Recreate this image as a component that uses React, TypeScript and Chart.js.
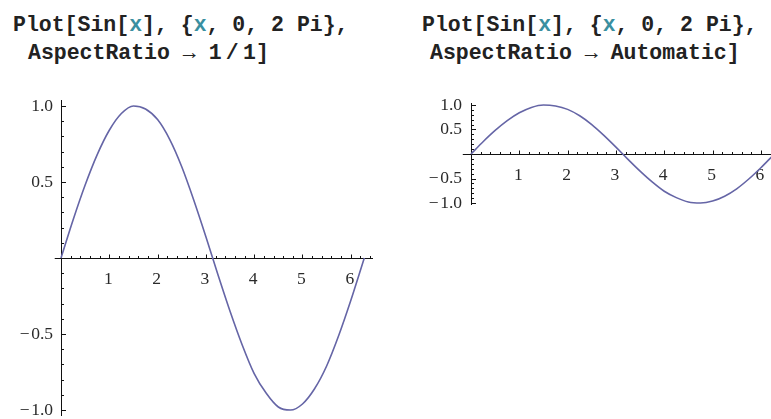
import React, { useEffect, useRef } from 'react';
import { Chart, registerables } from 'chart.js';

Chart.register(...registerables);

// Sampled points of Sin[x] over 0 .. 2 Pi
const xValues = [0, 0.25, 0.5, 0.75, 1, 1.25, 1.5, 1.75, 2, 2.25, 2.5, 2.75, 3, 3.25, 3.5, 3.75, 4, 4.25, 4.5, 4.75, 5, 5.25, 5.5, 5.75, 6, 6.28];
const sinValues = [0, 0.25, 0.48, 0.68, 0.84, 0.95, 1.0, 0.98, 0.91, 0.78, 0.6, 0.38, 0.14, -0.11, -0.35, -0.57, -0.76, -0.89, -0.98, -1.0, -0.96, -0.86, -0.71, -0.51, -0.28, 0];

// Axis tick labels
const xMajorTicks = [1, 2, 3, 4, 5, 6];
const yMajorTicks = [-1, -0.5, 0.5, 1];
const xMinorStep = 0.2;
const yMinorStep = 0.1;

const CURVE_COLOR = '#6565a6';
const AXIS_COLOR = '#111111';
const LABEL_COLOR = '#2a2a2a';
const LABEL_FONT = { family: '"Liberation Serif", "Times New Roman", serif', size: 17.5 };
// fixed width reserved for the y tick labels, left of the y axis
const Y_LABEL_BOX = 52;

const formatY = (v: number) => (v < 0 ? '\u2212\u200A' + Math.abs(v).toFixed(1) : v.toFixed(1));

// Mathematica-style axes crossing at the origin, with ticks pointing inward
const mathAxes = {
  id: 'mathAxes',
  beforeDatasetsDraw(chart: any, _args: any, opts: any) {
    const { ctx } = chart;
    const xs = chart.scales.x;
    const ys = chart.scales.y;
    const ox = Math.round(xs.getPixelForValue(0)) + 0.5;
    const oy = Math.round(ys.getPixelForValue(0)) + 0.5;
    ctx.save();
    ctx.strokeStyle = AXIS_COLOR;
    ctx.lineWidth = 1;
    ctx.beginPath();
    ctx.moveTo(xs.getPixelForValue(opts.xStart ?? 0), oy);
    ctx.lineTo(xs.right, oy);
    ctx.moveTo(ox, ys.top);
    ctx.lineTo(ox, ys.bottom);

    for (let i = 1; i * xMinorStep <= xs.max; i++) {
      const v = i * xMinorStep;
      const major = Math.abs(v - Math.round(v)) < 1e-6;
      const px = Math.round(xs.getPixelForValue(v)) + 0.5;
      ctx.moveTo(px, oy);
      ctx.lineTo(px, oy - (major ? 4 : 2.5));
    }
    for (let i = Math.ceil(ys.min / yMinorStep); i * yMinorStep <= ys.max + 1e-9; i++) {
      if (i === 0) continue;
      const v = i * yMinorStep;
      const major = Math.abs(v * 2 - Math.round(v * 2)) < 1e-6;
      const py = Math.round(ys.getPixelForValue(v)) + 0.5;
      ctx.moveTo(ox, py);
      ctx.lineTo(ox + (major ? 4.5 : 2.5), py);
    }
    ctx.stroke();
    ctx.restore();
  },
};

type PlotProps = {
  left: number;
  width: number;
  height: number;
  padding: { left: number; right: number; top: number; bottom: number };
  xStart: number;
  xMax: number;
  yRange: [number, number];
  yLabelPad: number;
};

function SinPlot({ left, width, height, padding, xStart, xMax, yRange, yLabelPad }: PlotProps) {
  const ref = useRef<HTMLCanvasElement | null>(null);

  useEffect(() => {
    if (!ref.current) return;
    const chart = new Chart(ref.current, {
      type: 'line',
      data: {
        datasets: [
          {
            data: xValues.map((x, i) => ({ x, y: sinValues[i] })),
            borderColor: CURVE_COLOR,
            borderWidth: 1.6,
            pointRadius: 0,
            cubicInterpolationMode: 'monotone',
            fill: false,
            clip: 4,
          },
        ],
      },
      options: {
        animation: false,
        responsive: false,
        maintainAspectRatio: false,
        layout: { padding },
        plugins: {
          legend: { display: false },
          tooltip: { enabled: false },
          mathAxes: { xStart },
        } as any,
        scales: {
          x: {
            type: 'linear',
            min: 0,
            max: xMax,
            position: { y: 0 } as any,
            grid: { display: false, drawTicks: false },
            border: { display: false },
            ticks: {
              color: LABEL_COLOR,
              font: LABEL_FONT,
              padding: 11,
              labelOffset: -1,
              autoSkip: false,
              maxRotation: 0,
              callback: (v: any) => String(v),
            },
            afterBuildTicks: (s: any) => {
              s.ticks = xMajorTicks.map((value) => ({ value }));
            },
          },
          y: {
            type: 'linear',
            min: yRange[0],
            max: yRange[1],
            position: 'left',
            grid: { display: false, drawTicks: false },
            border: { display: false },
            ticks: {
              color: LABEL_COLOR,
              font: LABEL_FONT,
              padding: yLabelPad,
              autoSkip: false,
              callback: (v: any) => formatY(Number(v)),
            },
            afterBuildTicks: (s: any) => {
              s.ticks = yMajorTicks.map((value) => ({ value }));
            },
            afterFit: (s: any) => {
              s.width = Y_LABEL_BOX;
            },
          },
        },
      },
      plugins: [mathAxes],
    });
    return () => chart.destroy();
  }, []);

  return (
    <canvas
      ref={ref}
      width={width}
      height={height}
      style={{ position: 'absolute', left, top: 0, width, height }}
    />
  );
}

const codeStyle: React.CSSProperties = {
  position: 'absolute',
  fontFamily: '"Liberation Mono", "Courier New", monospace',
  fontWeight: 'bold',
  fontSize: 21.5,
  lineHeight: '28px',
  color: '#222',
  whiteSpace: 'pre',
};
const sym: React.CSSProperties = { color: '#3a8fa0' };

export default function App() {
  return (
    <div
      style={{
        position: 'fixed',
        left: 0,
        top: 0,
        width: 771,
        height: 419,
        overflow: 'hidden',
        background: '#fff',
      }}
    >
      <div style={{ ...codeStyle, left: 13, top: 11 }}>
        Plot[Sin[<span style={sym}>x</span>], {'{'}<span style={sym}>x</span>, 0, 2 Pi{'}'},
      </div>
      <div style={{ ...codeStyle, left: 28, top: 39 }}>AspectRatio → 1{'\u2009'}/{'\u2009'}1]</div>

      <div style={{ ...codeStyle, left: 422, top: 11 }}>
        Plot[Sin[<span style={sym}>x</span>], {'{'}<span style={sym}>x</span>, 0, 2 Pi{'}'},
      </div>
      <div style={{ ...codeStyle, left: 430, top: 39 }}>AspectRatio → Automatic]</div>

      <SinPlot
        left={0}
        width={390}
        height={440}
        padding={{ left: 61 - Y_LABEL_BOX, right: 17, top: 100, bottom: 24 }}
        xStart={-0.13}
        xMax={6.46}
        yRange={[-1.039, 1.039]}
        yLabelPad={8}
      />
      <SinPlot
        left={390}
        width={420}
        height={419}
        padding={{ left: 81 - Y_LABEL_BOX, right: 10, top: 103, bottom: 214 }}
        xStart={-0.17}
        xMax={6.81}
        yRange={[-1.04, 1.04]}
        yLabelPad={9}
      />
    </div>
  );
}
